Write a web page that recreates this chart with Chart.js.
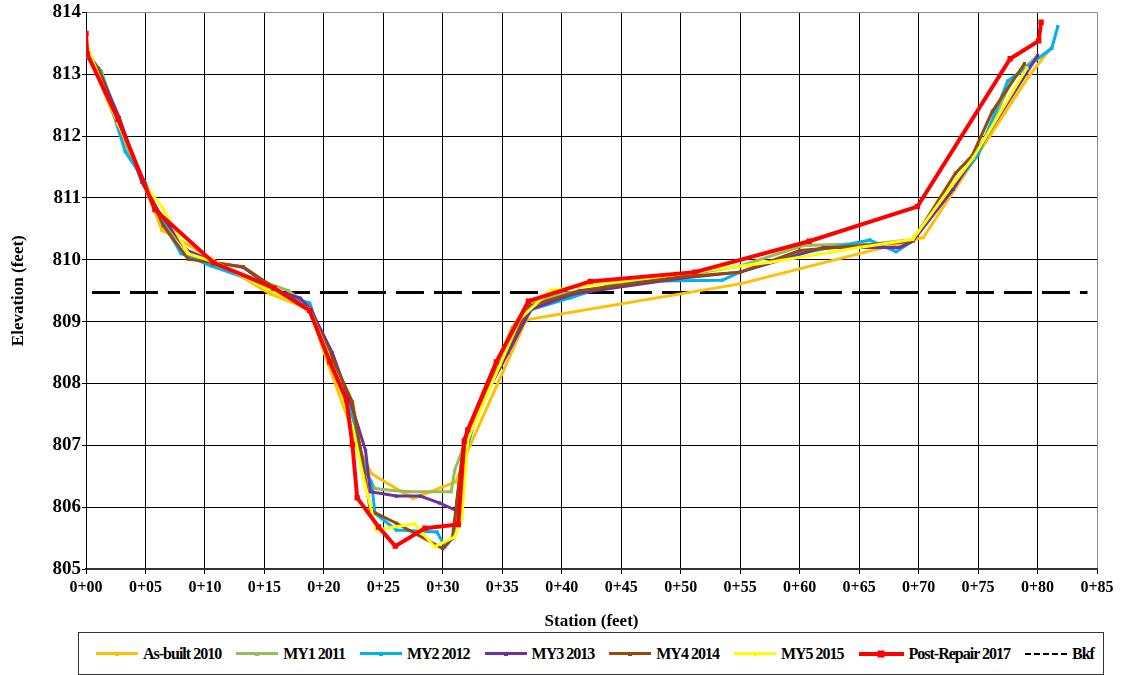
<!DOCTYPE html>
<html>
<head>
<meta charset="utf-8">
<title>Cross-section</title>
<script src="https://cdn.jsdelivr.net/npm/chart.js@4.4.1/dist/chart.umd.min.js"></script>
<style>
  body { margin: 0; background: #fff; }
  #wrap { position: relative; width: 1122px; height: 675px; }
  #chart { position: absolute; left: 0; top: 0; }
  #legend {
    position: absolute; left: 78px; top: 632px; width: 1026px; height: 43px;
    box-sizing: border-box; border: 1px solid #333;
    display: flex; align-items: center; padding-left: 17px; gap: 15px;
    font-family: "Liberation Serif", "DejaVu Serif", serif;
    font-weight: bold; font-size: 16px; letter-spacing: -1px; color: #000;
  }
  .item { display: flex; align-items: center; white-space: nowrap; }
  .sample { position: relative; width: 42px; margin-right: 5px; }
  .sample .mk { position: absolute; left: 50%; top: 50%; transform: translate(-50%, -50%); }
</style>
</head>
<body>
<div id="wrap">
  <canvas id="chart" width="1122" height="632"></canvas>
  <div id="legend"></div>
</div>
<script>
// --- DATA (station in feet, elevation in feet) ---
const asBuiltSta  = [0, 0.3, 2.6, 4.9, 6.4, 7.0, 10.5, 15.5, 18.8, 20.2, 22.9, 24.0, 27.5, 31.1, 32.0, 37.0, 55.0, 70.4, 74.8, 79.2, 81.1];
const asBuiltElev = [813.55, 813.3, 812.2, 811.2, 810.47, 810.42, 810.02, 809.45, 809.2, 808.4, 806.97, 806.54, 806.14, 806.41, 806.87, 809.03, 809.61, 810.36, 811.65, 812.95, 813.42];

const my1Sta  = [0, 1.3, 2.9, 3.6, 4.9, 6.6, 8.7, 10.8, 13.0, 17.0, 18.8, 20.5, 22.4, 23.4, 24.3, 25.8, 27.2, 30.7, 31.0, 31.7, 33.0, 35.8, 37.2, 40.0, 48.0, 55.0, 60.3, 63.9, 66.0, 69.5, 73.2, 75.0, 77.8, 80.0];
const my1Elev = [813.3, 813.05, 812.15, 811.75, 811.2, 810.6, 810.1, 809.9, 809.78, 809.5, 809.25, 808.4, 807.5, 806.6, 806.3, 806.27, 806.25, 806.25, 806.6, 806.95, 807.6, 808.9, 809.28, 809.45, 809.68, 809.9, 810.23, 810.25, 810.25, 810.33, 811.3, 811.7, 812.9, 813.3];

const my2Sta  = [0, 1.2, 3.3, 5.0, 6.3, 8.0, 10.5, 13.5, 16.2, 18.8, 20.5, 22.5, 23.5, 24.0, 24.3, 26.1, 29.5, 30.2, 30.9, 31.6, 33.2, 35.5, 37.5, 40.8, 45.0, 53.5, 55.0, 60.0, 65.9, 68.1, 69.5, 73.0, 75.0, 77.5, 81.2, 81.7];
const my2Elev = [813.3, 813.05, 811.75, 811.25, 810.65, 810.1, 809.9, 809.7, 809.45, 809.3, 808.4, 807.4, 806.6, 806.4, 805.9, 805.63, 805.6, 805.36, 805.52, 806.7, 807.7, 808.6, 809.2, 809.39, 809.65, 809.67, 809.8, 810.1, 810.32, 810.13, 810.3, 811.2, 811.7, 812.89, 813.42, 813.77];

const my3Sta  = [0, 1.0, 2.8, 4.7, 6.2, 8.5, 11.0, 13.2, 16.0, 18.0, 18.9, 20.7, 22.4, 23.5, 23.9, 26.1, 28.1, 29.7, 31.1, 31.8, 33.0, 35.5, 37.4, 41.0, 50.0, 55.0, 62.0, 68.4, 69.5, 72.9, 75.7, 80.0];
const my3Elev = [813.35, 813.1, 812.3, 811.25, 810.75, 810.15, 809.95, 809.88, 809.5, 809.38, 809.2, 808.5, 807.6, 806.92, 806.25, 806.18, 806.18, 806.07, 805.95, 807.1, 807.6, 808.5, 809.2, 809.45, 809.7, 809.8, 810.2, 810.2, 810.3, 811.14, 812.0, 813.3];

const my4Sta  = [0, 1.0, 2.7, 5.0, 6.5, 8.6, 13.2, 15.8, 18.8, 20.6, 22.4, 23.2, 23.9, 26.1, 30.0, 30.8, 31.8, 33.0, 35.5, 37.3, 41.5, 50.0, 55.0, 60.0, 69.5, 73.1, 74.5, 76.2, 78.9];
const my4Elev = [813.4, 813.1, 812.2, 811.2, 810.55, 810.01, 809.89, 809.55, 809.2, 808.45, 807.7, 806.8, 805.95, 805.74, 805.33, 805.5, 807.1, 807.6, 808.6, 809.25, 809.5, 809.72, 809.8, 810.15, 810.3, 811.4, 811.68, 812.4, 813.17];

const my5Sta  = [0, 0.6, 2.7, 5.0, 6.4, 8.6, 11.0, 15.0, 18.8, 20.3, 22.4, 23.3, 24.4, 27.6, 29.3, 31.0, 31.6, 32.1, 34.8, 36.5, 39.1, 45.0, 51.0, 57.5, 65.0, 69.5, 72.8, 74.6, 79.1];
const my5Elev = [813.5, 813.2, 812.2, 811.2, 810.85, 810.1, 809.95, 809.55, 809.2, 808.5, 807.3, 806.5, 805.63, 805.73, 805.36, 805.52, 805.82, 807.1, 808.3, 809.05, 809.51, 809.65, 809.8, 809.96, 810.2, 810.33, 811.2, 811.65, 813.1];

const repairSta  = [0, 0.1, 2.7, 5.8, 10.75, 15.8, 18.8, 20.5, 21.9, 22.4, 22.8, 24.6, 26.0, 28.5, 31.3, 31.8, 32.1, 34.5, 37.2, 42.4, 51.2, 60.8, 69.9, 77.7, 80.1, 80.3];
const repairElev = [813.66, 813.33, 812.27, 810.81, 809.95, 809.54, 809.18, 808.35, 807.73, 807.01, 806.15, 805.68, 805.37, 805.66, 805.72, 807.06, 807.25, 808.35, 809.33, 809.65, 809.8, 810.3, 810.86, 813.25, 813.54, 813.84];

const bkfSta  = [0.5, 84.2];
const bkfElev = [809.47, 809.47];

const xTicks = [0, 5, 10, 15, 20, 25, 30, 35, 40, 45, 50, 55, 60, 65, 70, 75, 80, 85];
const yTicks = [805, 806, 807, 808, 809, 810, 811, 812, 813, 814];

// helper: pair station / elevation arrays into {x, y}
function toPoints(sta, elev) {
  return sta.map((s, i) => ({ x: s, y: elev[i] }));
}

function series(label, sta, elev, color, opts = {}) {
  return Object.assign({
    label: label,
    data: toPoints(sta, elev),
    borderColor: color,
    backgroundColor: color,
    borderWidth: 3,
    pointStyle: "rect",
    pointRadius: 2.3,
    pointBorderWidth: 0,
    showLine: true,
    tension: 0,
  }, opts);
}

const datasets = [
  series("As-built 2010", asBuiltSta, asBuiltElev, "#FFC000", { order: 7 }),
  series("MY1 2011", my1Sta, my1Elev, "#9BBB59", { order: 6 }),
  series("MY2 2012", my2Sta, my2Elev, "#00B0F0", { order: 5 }),
  series("MY3 2013", my3Sta, my3Elev, "#7030A0", { order: 4 }),
  series("MY4 2014", my4Sta, my4Elev, "#984807", { order: 3 }),
  series("MY5 2015", my5Sta, my5Elev, "#FFFF00", { order: 2 }),
  series("Post-Repair 2017", repairSta, repairElev, "#FF0000", { order: 0, borderWidth: 4, pointRadius: 3.8 }),
  series("Bkf", bkfSta, bkfElev, "#000000", { order: 8, borderWidth: 3, pointRadius: 0, borderDash: [28, 10] }),
];

const serif = "'Liberation Serif', 'DejaVu Serif', serif";
const tickFont = { family: serif, weight: "bold", size: 16 };
const titleFont = { family: serif, weight: "bold", size: 17 };

const ctx = document.getElementById("chart").getContext("2d");
const chart = new Chart(ctx, {
  type: "scatter",
  data: { datasets: datasets },
  options: {
    responsive: false,
    animation: false,
    layout: { padding: { left: 0, right: 25, top: 11, bottom: 0 } },
    plugins: {
      legend: { display: false },
      tooltip: { enabled: false },
    },
    scales: {
      x: {
        type: "linear",
        min: 0,
        max: 85,
        afterBuildTicks: (axis) => { axis.ticks = xTicks.map((v) => ({ value: v })); },
        ticks: {
          font: tickFont,
          color: "#000",
          padding: 4,
          maxRotation: 0,
          callback: (v) => "0+" + String(v).padStart(2, "0"),
        },
        grid: {
          color: (c) => (c.tick && c.tick.value === 85 ? "#8c8c8c" : "#000"),
          lineWidth: 1,
          tickLength: 5,
          tickColor: "#000",
        },
        border: { color: "#333", width: 2 },
        title: { display: true, text: "Station (feet)", font: titleFont, color: "#000", padding: { top: 0, bottom: 0 } },
        afterFit: (axis) => { axis.height = 63; },
      },
      y: {
        type: "linear",
        min: 805,
        max: 814,
        afterBuildTicks: (axis) => { axis.ticks = yTicks.map((v) => ({ value: v })); },
        ticks: {
          font: { family: serif, weight: "bold", size: 19 },
          color: "#000",
          padding: 1,
        },
        grid: {
          color: (c) => (c.tick && c.tick.value === 814 ? "#8c8c8c" : "#000"),
          lineWidth: 1,
          tickLength: 4,
          tickColor: "#000",
        },
        border: { color: "#000", width: 1 },
        title: { display: true, text: "Elevation (feet)", font: titleFont, color: "#000", padding: { top: 8, bottom: 0 } },
        afterFit: (axis) => { axis.width = 86; },
      },
    },
  },
});

// --- HTML LEGEND (built from the datasets, original order) ---
const legendEl = document.getElementById("legend");
datasets.forEach((ds) => {
  const item = document.createElement("div");
  item.className = "item";
  const sample = document.createElement("div");
  sample.className = "sample";
  const isRed = ds.label === "Post-Repair 2017";
  sample.style.width = isRed ? "45px" : "42px";
  sample.style.borderTop = (ds.borderDash ? "2px dashed " : (isRed ? "4px solid " : "3px solid ")) + ds.borderColor;
  if (!ds.borderDash) {
    const mk = document.createElement("div");
    mk.className = "mk";
    const sz = isRed ? 7 : 4;
    mk.style.width = sz + "px";
    mk.style.height = sz + "px";
    mk.style.marginTop = isRed ? "-2px" : "-1.5px";
    mk.style.background = ds.borderColor;
    sample.appendChild(mk);
  }
  const text = document.createElement("span");
  text.textContent = ds.label;
  item.appendChild(sample);
  item.appendChild(text);
  legendEl.appendChild(item);
});
</script>
</body>
</html>
